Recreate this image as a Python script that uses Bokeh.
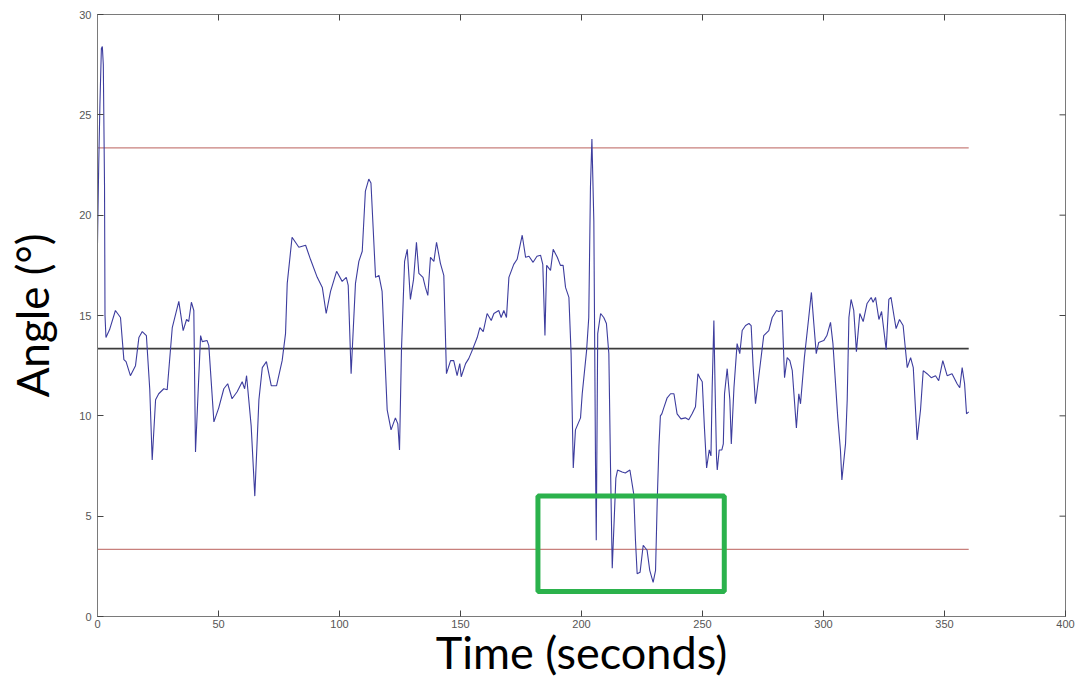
import math
from bokeh.plotting import figure
from bokeh.models import FixedTicker
from bokeh.embed import file_html
from bokeh.resources import INLINE

# ---- data ----
t1 = [0, 0.5, 1.0, 1.6, 2.0, 2.4, 2.9, 3.1, 3.5, 5.0, 7.4, 9.5, 10.9, 11.8, 13.6, 15.7, 17.1, 18.5, 20.2, 21.6,
      22.6, 24.0, 25.3, 27.4, 28.8, 30.9, 33.6, 35.4, 36.8, 37.7, 38.8, 39.8, 40.5, 42.6, 43.3, 45.3, 46.0]
a1 = [18.6, 22.5, 25.5, 28.3, 28.4, 27.5, 21.5, 15.0, 13.9, 14.3, 15.25, 14.9, 12.8, 12.7, 12.0, 12.5, 13.9, 14.2, 14.0, 11.3,
      7.8, 10.8, 11.1, 11.35, 11.3, 14.4, 15.7, 14.25, 14.8, 14.7, 15.66, 15.25, 8.2, 14.0, 13.7, 13.75, 13.5]

t2 = [48.1, 50.1, 52.2, 53.8, 55.6, 57.7, 59.8, 60.8, 61.6, 63.5, 65.0, 66.7, 68.1, 69.8, 71.8, 74.0, 76.3, 77.7, 78.4, 80.4,
      83.2, 86.0, 88.0, 90.8, 92.9, 94.5, 96.3, 98.8, 101.1, 102.8, 103.6, 104.8, 106.6, 108.0]
a2 = [9.7, 10.4, 11.35, 11.6, 10.85, 11.2, 11.7, 11.35, 12.0, 9.5, 6.0, 10.8, 12.4, 12.7, 11.5, 11.5, 12.75, 14.1, 16.6, 18.9,
      18.4, 18.5, 17.8, 16.9, 16.4, 15.1, 16.2, 17.2, 16.7, 16.9, 16.5, 12.1, 16.6, 17.7]

t3 = [109.4, 110.7, 112.1, 113.0, 114.9, 116.3, 117.6, 119.7, 121.3, 123.1, 124.1, 124.8, 125.6, 126.9, 128.0, 129.3,
      130.6, 131.8, 132.8, 134.5, 135.5, 136.5, 137.6, 139.0, 140.1, 141.7, 143.1, 144.2, 145.9, 147.2, 148.6, 149.7,
      150.3, 152.1, 153.4, 154.8, 156.9, 158.0, 159.4, 161.0, 162.7, 163.8, 165.8, 166.8, 167.9, 169.0]
a3 = [18.2, 21.2, 21.8, 21.6, 16.9, 17.0, 16.2, 10.3, 9.3, 9.9, 9.6, 8.3, 13.25, 17.7, 18.3, 15.8,
      16.8, 18.65, 17.1, 16.9, 16.4, 16.0, 17.9, 17.7, 18.65, 17.6, 17.0, 12.1, 12.75, 12.75, 12.0, 12.6,
      11.95, 12.6, 12.85, 13.25, 13.9, 14.4, 14.2, 15.1, 14.75, 15.1, 15.25, 14.9, 15.25, 14.9]

t4 = [170.0, 172.0, 173.4, 175.5, 176.9, 178.3, 180.0, 181.6, 183.1, 184.0, 184.9, 185.6, 187.2, 188.3, 190.0, 191.3,
      192.4, 193.4, 194.8, 195.7, 196.6, 197.5, 199.6, 200.3, 202.1, 203.0, 203.7, 204.3, 205.1, 205.8, 206.1, 206.7,
      207.9, 209.2, 210.3, 211.3, 212.0, 212.7, 213.5, 214.2, 214.9, 216.8, 218.1, 220.0, 221.6, 222.3, 223.0, 224.2,
      225.5, 227.1, 228.2, 229.6, 230.6, 231.3, 232.0]
a4 = [16.9, 17.55, 17.8, 19.0, 17.9, 17.95, 17.65, 17.95, 18.0, 17.55, 14.0, 17.5, 17.25, 18.3, 17.9, 17.5,
      17.5, 16.4, 15.9, 13.1, 7.4, 9.3, 9.9, 11.1, 13.25, 14.9, 21.4, 23.8, 19.7, 7.4, 3.8, 14.1,
      15.1, 14.9, 14.6, 13.1, 7.4, 2.4, 4.8, 6.9, 7.3, 7.2, 7.15, 7.3, 6.1, 3.8, 2.13, 2.2,
      3.55, 3.3, 2.3, 1.7, 2.3, 5.8, 8.5]

t5 = [232.6, 233.2, 234.0, 235.4, 236.8, 238.2, 239.5, 241.1, 242.9, 244.3, 245.7, 247.1, 248.1, 248.9, 249.9, 250.8,
      251.7, 252.8, 253.5, 254.0, 254.7, 255.2, 255.8, 256.1, 256.9, 258.0, 258.6, 259.1, 260.2, 261.3, 261.9, 263.0,
      264.3, 265.4, 266.4, 267.8, 269.2, 270.1, 270.9, 271.9, 273.3, 275.3, 277.4, 278.8, 280.6, 281.5, 282.9, 283.9,
      285.0, 286.1, 287.1, 288.8, 289.8, 290.5, 292.1, 293.9, 295.0, 296.0, 297.0, 298.0, 300.1]
a5 = [10.0, 10.1, 10.4, 10.9, 11.1, 11.1, 10.1, 9.85, 9.9, 9.8, 10.1, 10.45, 12.1, 11.9, 11.7, 9.4,
      7.4, 8.3, 8.0, 11.4, 14.75, 11.4, 7.9, 7.3, 8.3, 8.3, 8.6, 11.1, 12.35, 10.8, 8.6, 11.4,
      13.6, 13.1, 14.25, 14.5, 14.6, 14.5, 12.5, 10.6, 12.0, 14.0, 14.25, 14.9, 15.25, 15.2, 15.25, 11.9,
      12.9, 12.75, 12.25, 9.4, 11.1, 10.6, 12.9, 14.9, 16.15, 14.6, 13.1, 13.65, 13.75]

t6 = [301.4, 302.9, 303.9, 305.9, 307.0, 307.6, 309.1, 309.8, 310.5, 311.4, 312.5, 313.6, 315.0, 316.4, 318.0, 319.7,
      320.5, 321.5, 322.9, 324.0, 325.9, 327.0, 327.9, 329.1, 330.0, 331.4, 332.9, 334.6, 336.0, 337.1, 338.7, 340.1,
      341.2, 342.8, 344.5, 346.3, 347.6, 349.3, 351.1, 353.1, 355.2, 356.3, 357.3, 358.3, 359.1, 360.0]
a6 = [14.0, 14.66, 13.6, 9.9, 8.3, 6.8, 8.6, 10.8, 14.9, 15.8, 15.25, 13.2, 15.1, 14.7, 15.6, 15.9,
      15.66, 15.9, 14.8, 15.2, 13.3, 15.8, 15.9, 15.0, 14.35, 14.8, 14.5, 12.4, 12.9, 12.4, 8.8, 10.3,
      12.25, 12.1, 11.9, 12.0, 11.75, 12.75, 12.0, 12.1, 11.6, 11.4, 12.4, 11.6, 10.1, 10.2]

time_s = t1 + t2 + t3 + t4 + t5 + t6
angle = a1 + a2 + a3 + a4 + a5 + a6
assert len(time_s) == len(angle)

mean_angle = 13.35
upper_limit = 23.35
lower_limit = 3.35
ref_span = [0, 360]

box_x = [182, 259]
box_y = [1.25, 6.0]

x_min, x_max = 0, 400
y_min, y_max = 0, 30
x_ticks = [0, 50, 100, 150, 200, 250, 300, 350, 400]
y_ticks = [0, 5, 10, 15, 20, 25, 30]

# ---- figure ----
p = figure(width=1076, height=681, x_range=(x_min, x_max), y_range=(y_min, y_max),
           output_backend="svg", toolbar_location=None,
           min_border_left=97, min_border_right=11, min_border_top=14, min_border_bottom=65,
           background_fill_color="white", border_fill_color="white")
p.grid.visible = False
p.outline_line_color = "#7a7a7a"
p.outline_line_width = 1

tick_color = "#555555"
for ax, ticks in ((p.xaxis[0], x_ticks), (p.yaxis[0], y_ticks)):
    ax.ticker = FixedTicker(ticks=ticks)
    ax.minor_tick_line_color = None
    ax.major_tick_in = 6
    ax.major_tick_out = 0
    ax.axis_line_color = "#7a7a7a"
    ax.major_tick_line_color = "#444444"
    ax.major_label_text_font = "Liberation Sans"
    ax.major_label_text_font_size = "11px"
    ax.major_label_text_color = tick_color
    ax.axis_label_text_font = "Lato"
    ax.axis_label_text_font_style = "normal"
    ax.axis_label_text_color = "black"

p.xaxis.axis_label = "Time (seconds)"
p.xaxis.axis_label_text_font_size = "45px"
p.xaxis.major_label_standoff = 3
p.xaxis.axis_label_standoff = -6

p.yaxis.axis_label = "Angle (°)"
p.yaxis.axis_label_text_font_size = "44px"
p.yaxis.major_label_standoff = 6
p.yaxis.axis_label_standoff = 18

# tick marks on the top and right edges of the box (half of each dash is clipped by the frame)
p.scatter(x_ticks, [y_max] * len(x_ticks), marker="dash", angle=math.pi / 2, size=12,
          line_color="#444444", line_width=1)
p.scatter([x_max] * len(y_ticks), y_ticks, marker="dash", angle=0, size=12,
          line_color="#444444", line_width=1)

# reference lines
p.line(ref_span, [upper_limit, upper_limit], line_color="#c8807c", line_width=1.2)
p.line(ref_span, [lower_limit, lower_limit], line_color="#c8807c", line_width=1.2)
p.line(ref_span, [mean_angle, mean_angle], line_color="#3c3c3c", line_width=1.6)

# trace
p.line(time_s, angle, line_color="#3d3d9e", line_width=1.1)

# highlight box
p.quad(left=[box_x[0]], right=[box_x[1]], bottom=[box_y[0]], top=[box_y[1]],
       fill_color=None, line_color="#2bb24c", line_width=5)

open("out.html", "w").write(file_html(p, INLINE))
